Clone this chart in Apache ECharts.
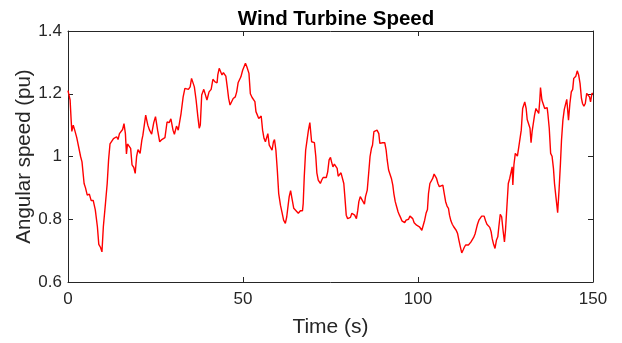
<!DOCTYPE html>
<html>
<head>
<meta charset="utf-8">
<script src="https://cdn.jsdelivr.net/npm/echarts@6/dist/echarts.min.js"></script>
<style>
html,body{margin:0;padding:0;background:#fff;}
#chart{width:622px;height:343px;}
</style>
</head>
<body>
<div id="chart"></div>
<script>
const chartTitle = 'Wind Turbine Speed';
const xAxisName = 'Time (s)';
const yAxisName = 'Angular speed (pu)';
const xTicks = [0, 50, 100, 150];
const yTicks = [0.6, 0.8, 1.0, 1.2, 1.4];

const timeS = [
0,0.2,0.6,0.9,1.1,1.5,1.9,2.5,3.0,3.6,4.0,4.6,5.0,5.5,6.1,6.6,7.2,7.8,8.4,8.8,9.3,9.7,10.1,10.7,11.2,11.6,12.0,12.5,13.0,13.5,13.9,14.3,14.7,15.1,15.6,16.0,16.4,16.7,17.0,17.5,17.9,18.3,18.8,19.2,19.6,20.0,20.6,21.1,
21.4,22.2,22.8,23.3,23.9,24.5,25.0,25.6,26.2,26.8,27.3,27.7,28.3,28.9,29.4,30.0,30.4,31.0,31.5,31.9,32.3,32.9,33.4,33.9,34.4,34.9,35.3,35.7,36.1,36.6,37.1,37.5,37.8,38.2,38.8,39.2,39.7,40.3,40.9,41.4,42.0,42.6,
42.8,43.2,43.6,44.0,44.4,44.8,45.1,45.5,45.9,46.3,46.8,47.2,47.8,48.2,48.6,49.0,49.4,49.9,50.3,50.7,51.1,51.4,51.7,52.1,52.6,53.0,53.4,53.7,54.1,54.5,54.9,55.2,55.6,56.0,56.4,56.8,57.1,57.5,57.9,58.3,58.7,59.0,59.4,59.8,60.2,60.7,61.1,61.6,62.1,62.5,62.9,63.2,63.6,64.0,
64.5,65.0,65.8,66.4,67.0,67.2,67.5,67.9,68.3,68.7,69.1,69.6,70.0,70.4,70.8,71.1,71.5,72.1,72.5,72.9,73.2,73.8,74.2,74.6,75.0,75.3,75.7,76.1,76.5,76.9,77.2,77.6,78.0,78.4,78.8,79.1,79.5,79.9,80.3,80.7,81.1,81.5,81.9,82.4,82.8,83.1,83.5,83.9,84.3,84.7,85.0,
85.5,85.9,86.3,86.7,87.0,87.4,87.8,88.3,88.8,89.1,89.5,89.9,90.5,90.9,91.2,91.6,92.0,92.4,92.8,93.1,93.5,93.9,94.3,94.7,95.0,95.4,95.8,96.2,96.6,96.9,97.3,97.7,98.1,98.5,98.9,99.2,99.6,100.0,100.4,100.8,101.1,101.5,101.9,102.3,102.7,103.0,103.4,103.8,104.2,104.6,105.0,105.3,105.7,106.1,106.5,
107.1,107.5,107.9,108.3,108.7,109.0,109.4,109.8,110.2,110.6,110.9,111.3,111.7,112.1,112.5,112.9,113.2,113.6,114.0,114.4,114.8,115.1,115.5,115.9,116.3,116.7,117.0,117.4,117.8,118.2,118.6,118.9,119.3,119.7,120.1,120.5,120.9,121.2,121.6,122.0,122.4,122.8,123.1,123.5,123.9,124.3,124.7,125.0,125.4,125.8,126.2,126.6,126.9,127.1,127.4,127.8,
128.4,128.8,129.1,129.5,129.9,130.5,130.9,131.2,131.6,132.0,132.3,132.6,133.0,133.3,133.7,134.1,134.5,134.8,135.0,135.4,135.8,136.2,136.6,136.9,137.1,137.5,137.9,138.3,138.7,139.0,139.4,139.9,140.3,140.7,141.0,141.4,141.8,142.2,142.5,142.8,143.0,143.4,143.8,144.2,144.5,144.9,145.1,145.5,145.9,146.3,146.7,147.0,147.4,147.8,148.2,148.6,149.0,149.3,149.7,150.0
];

const speedPu = [
1.21,1.21,1.18,1.116,1.08,1.10,1.085,1.06,1.054,1.0,0.983,0.914,0.90,0.877,0.88,0.86,0.86,0.83,0.776,0.72,0.71,0.696,0.776,0.85,0.914,0.99,1.04,1.036,1.057,1.054,1.063,1.054,1.073,1.068,1.086,1.105,1.073,1.008,1.04,1.04,1.026,0.973,0.965,0.946,1.0,1.022,1.01,1.052,
1.068,1.132,1.10,1.084,1.071,1.108,1.127,1.084,1.047,1.054,1.058,1.06,1.11,1.108,1.12,1.084,1.071,1.097,1.084,1.086,1.137,1.19,1.217,1.212,1.214,1.222,1.249,1.246,1.222,1.18,1.127,1.09,1.10,1.196,1.214,1.212,1.18,1.206,1.214,1.246,1.238,1.235,
1.26,1.281,1.284,1.26,1.267,1.273,1.256,1.222,1.185,1.164,1.16,1.185,1.19,1.206,1.235,1.233,1.254,1.275,1.281,1.297,1.286,1.288,1.265,1.20,1.188,1.182,1.175,1.143,1.14,1.121,1.121,1.129,1.084,1.058,1.047,1.042,1.073,1.036,1.031,1.02,1.047,1.054,1.02,0.957,0.882,0.845,0.824,0.797,0.787,0.808,0.845,0.872,0.891,0.866,
0.835,0.83,0.819,0.827,0.827,0.85,0.935,1.02,1.052,1.084,1.108,1.047,1.044,1.044,1.0,0.948,0.925,0.914,0.925,0.933,0.937,0.933,0.951,0.989,0.997,0.983,0.967,0.976,0.973,0.962,0.937,0.94,0.948,0.944,0.914,0.872,0.813,0.802,0.808,0.806,0.819,0.817,0.813,0.802,0.829,0.856,0.872,0.864,0.856,0.848,0.872,
0.893,0.946,1.0,1.026,1.036,1.079,1.084,1.084,1.073,1.042,1.047,1.044,1.044,1.02,0.989,0.957,0.951,0.93,0.909,0.882,0.856,0.84,0.824,0.813,0.806,0.795,0.789,0.789,0.797,0.792,0.80,0.81,0.813,0.802,0.789,0.784,0.781,0.778,0.776,0.771,0.765,0.76,0.797,0.819,0.831,0.882,0.914,0.919,0.93,0.944,0.94,0.93,0.914,0.904,0.904,
0.909,0.882,0.856,0.842,0.835,0.813,0.795,0.784,0.776,0.771,0.765,0.755,0.733,0.712,0.693,0.702,0.71,0.718,0.712,0.718,0.723,0.727,0.731,0.742,0.753,0.771,0.784,0.797,0.802,0.81,0.813,0.81,0.795,0.784,0.778,0.774,0.76,0.738,0.72,0.707,0.733,0.744,0.776,0.816,0.808,0.765,0.728,0.765,0.84,0.914,0.93,0.951,0.967,0.909,0.973,1.01,
1.001,1.031,1.031,1.084,1.153,1.174,1.153,1.118,1.116,1.09,1.044,1.079,1.084,1.132,1.153,1.148,1.137,1.18,1.22,1.18,1.174,1.153,1.148,1.156,1.137,1.09,1.01,1.001,0.962,0.914,0.872,0.821,0.893,0.978,1.052,1.116,1.15,1.153,1.182,1.143,1.116,1.169,1.206,1.214,1.249,1.252,1.256,1.273,1.26,1.233,1.185,1.169,1.16,1.169,1.201,1.201,1.19,1.174,1.201,1.201
];

const seriesData = timeS.map((t, i) => [t, speedPu[i]]);

const axisColor = '#262626';
const fontFam = 'Liberation Sans, Arial, Helvetica, sans-serif';

const chart = echarts.init(document.getElementById('chart'), null, {renderer: 'canvas'});
chart.setOption({
  animation: false,
  backgroundColor: '#ffffff',
  title: {
    text: chartTitle,
    left: 331, textAlign: 'center', top: 4,
    textStyle: {fontFamily: fontFam, fontSize: 20.5, fontWeight: 'bold', color: '#000'}
  },
  grid: {left: 68, right: 29, top: 31, bottom: 61, containLabel: false},
  xAxis: [{
    type: 'value', min: xTicks[0], max: xTicks[xTicks.length-1], interval: 50,
    position: 'bottom',
    name: xAxisName, nameLocation: 'middle', nameGap: 35, nameMoveOverlap: false,
    nameTextStyle: {fontFamily: fontFam, fontSize: 21, color: axisColor},
    axisLine: {show: true, onZero: false, lineStyle: {color: axisColor, width: 1}},
    axisTick: {show: true, inside: true, length: 5, lineStyle: {color: axisColor}},
    axisLabel: {fontFamily: fontFam, fontSize: 17, color: axisColor, margin: 9},
    splitLine: {show: false}
  }, {
    type: 'value', min: xTicks[0], max: xTicks[xTicks.length-1], interval: 50,
    position: 'top',
    axisLine: {show: true, onZero: false, lineStyle: {color: axisColor, width: 1}},
    axisTick: {show: true, inside: true, length: 5, lineStyle: {color: axisColor}},
    axisLabel: {show: false}, splitLine: {show: false}
  }],
  yAxis: [{
    type: 'value', min: yTicks[0], max: yTicks[yTicks.length-1], interval: 0.2,
    position: 'left',
    name: yAxisName, nameLocation: 'middle', nameGap: 33, nameRotate: 90, nameMoveOverlap: false,
    nameTextStyle: {fontFamily: fontFam, fontSize: 20.5, color: axisColor},
    axisLine: {show: true, onZero: false, lineStyle: {color: axisColor, width: 1}},
    axisTick: {show: true, inside: true, length: 5, lineStyle: {color: axisColor}},
    axisLabel: {fontFamily: fontFam, fontSize: 17, color: axisColor, margin: 6,
      formatter: v => (Math.abs(v - 1) < 1e-9 ? '1' : String(Math.round(v*10)/10))},
    splitLine: {show: false}
  }, {
    type: 'value', min: yTicks[0], max: yTicks[yTicks.length-1], interval: 0.2,
    position: 'right',
    axisLine: {show: true, onZero: false, lineStyle: {color: axisColor, width: 1}},
    axisTick: {show: true, inside: true, length: 5, lineStyle: {color: axisColor}},
    axisLabel: {show: false}, splitLine: {show: false}
  }],
  series: [{
    type: 'line', xAxisIndex: 0, yAxisIndex: 0,
    data: seriesData, showSymbol: false, symbol: 'none',
    lineStyle: {color: '#ff0000', width: 1.4},
    itemStyle: {color: '#ff0000'}
  }]
});
</script>
</body>
</html>
